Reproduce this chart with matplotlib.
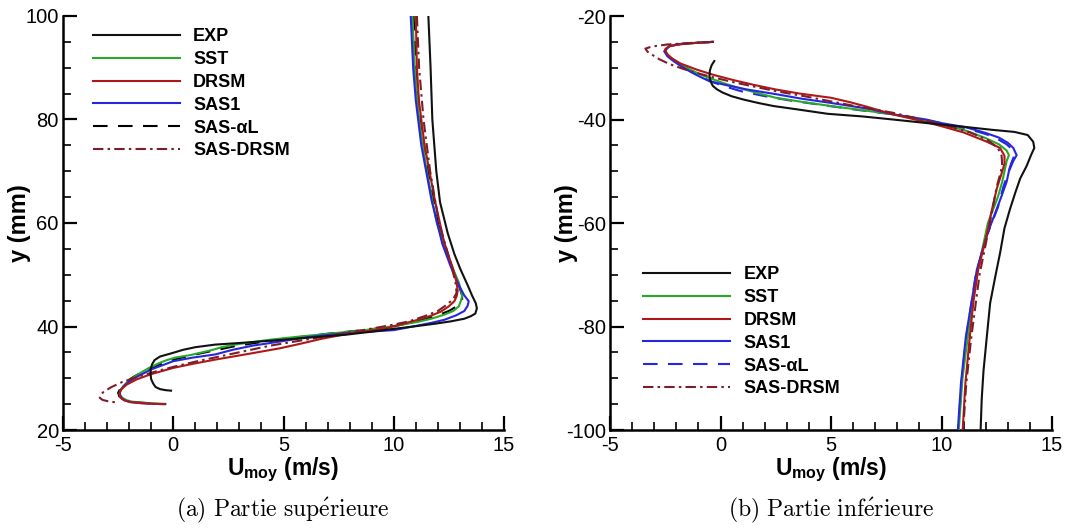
import matplotlib
matplotlib.use("Agg")
import matplotlib.pyplot as plt
from matplotlib.ticker import MultipleLocator

plt.rcParams['font.family'] = ['Liberation Sans', 'DejaVu Sans']
plt.rcParams['axes.unicode_minus'] = False
plt.rcParams['mathtext.fontset'] = 'custom'
plt.rcParams['mathtext.rm'] = 'Liberation Sans:bold'
plt.rcParams['mathtext.bf'] = 'Liberation Sans:bold'
plt.rcParams['mathtext.it'] = 'Liberation Sans:bold:italic'

# ---------------- data : (a) upper part ----------------
exp_up_y = [100, 90, 80, 70, 64, 58, 54, 51, 48, 46, 44.5, 43.5, 42.5, 42.0, 41.5, 41.0, 40.5, 40.0,
            39.5, 39.0, 38.4, 37.9, 37.4, 36.9, 36.5, 36.0, 35.5, 34.8, 34.2, 33.5, 32.7, 31.8, 30.8,
            29.8, 28.9, 28.3, 27.9, 27.7, 27.6]
exp_up_u = [11.57, 11.67, 11.75, 11.93, 12.1, 12.45, 12.75, 13.03, 13.35, 13.55, 13.72, 13.77, 13.7,
            13.5, 13.2, 12.6, 11.8, 10.9, 9.9, 9.0, 7.8, 6.3, 4.85, 3.3, 1.9, 1.0, 0.45, -0.1, -0.6,
            -0.85, -0.96, -1.02, -1.03, -1.0, -0.9, -0.8, -0.6, -0.35, -0.1]

sst_up_y = [100, 90, 80, 70, 60, 52, 48.5, 46.5, 45.9, 45, 43.9, 43, 42.3, 41.5, 40.9, 40.3, 39.6,
            39.0, 38.5, 38.0, 37.5, 37.0, 36.5, 36.0, 35.5, 35.0, 34.5, 34.0, 33.5, 33.0, 32.0, 31.0,
            30.0, 29.0, 28.0, 27.3, 26.7, 26.2, 25.8, 25.5, 25.3, 25.15, 25.05]
sst_up_u = [10.85, 10.95, 11.15, 11.5, 11.95, 12.6, 12.95, 13.08, 13.1, 13.05, 12.95, 12.7, 12.3,
            11.7, 11.1, 10.3, 9.3, 8.0, 6.8, 5.6, 4.5, 3.6, 2.8, 2.2, 1.8, 1.3, 0.8, 0.1, -0.3, -0.6,
            -1.1, -1.5, -1.85, -2.15, -2.35, -2.42, -2.4, -2.3, -2.15, -1.9, -1.5, -1.0, -0.35]

drsm_up_y = [100, 90, 83.7, 75, 64.3, 56, 51.4, 48.5, 46.9, 45.8, 44.9, 43.9, 42.9, 42.1, 41.3, 40.5,
             39.7, 39.1, 38.5, 37.6, 36.7, 35.8, 34.7, 33.6, 32.8, 32.0, 30.8, 29.8, 28.8, 27.9, 27.0,
             26.3, 25.8, 25.4, 25.2, 25.05, 25.0]
drsm_up_u = [11.0, 11.05, 11.14, 11.4, 11.87, 12.3, 12.67, 12.85, 12.9, 12.85, 12.75, 12.5, 12.15,
             11.7, 11.1, 10.4, 9.7, 8.8, 7.8, 6.7, 5.8, 4.85, 3.4, 1.9, 0.9, 0.0, -1.0, -1.65, -2.1,
             -2.35, -2.45, -2.4, -2.25, -1.95, -1.5, -0.9, -0.4]

sas1_up_y = [100, 90, 83.7, 75, 64.3, 56, 51.4, 48, 46, 44.9, 44, 43, 42.2, 41.3, 40.7, 40.2, 39.7,
             39.3, 38.7, 38.0, 37.1, 36.3, 35.5, 34.6, 34.0, 33.3, 32.5, 31.7, 30.5, 29.5, 28.5, 27.5,
             26.8, 26.2, 25.7, 25.4, 25.2, 25.05, 25.0]
sas1_up_u = [10.77, 10.88, 11.0, 11.25, 11.72, 12.2, 12.6, 12.95, 13.2, 13.4, 13.35, 13.2, 12.85,
             12.3, 11.7, 11.1, 10.5, 10.0, 7.8, 6.2, 4.85, 3.6, 2.7, 1.9, 0.9, 0.0, -0.5, -1.0, -1.55,
             -1.95, -2.25, -2.42, -2.42, -2.35, -2.2, -1.95, -1.5, -0.9, -0.38]

sasal_up_y = [100, 90, 80, 70, 60, 52, 48, 46, 45, 44, 43, 42, 41, 40, 39.3, 38.6, 37.8, 37, 36.2,
              35.4, 34.6, 33.8, 33, 32, 31, 30, 29, 28, 27.2, 26.5, 26, 25.6, 25.3, 25.1]
sasal_up_u = [10.9, 11.0, 11.2, 11.55, 12.0, 12.6, 12.95, 13.1, 13.1, 12.9, 12.5, 11.9, 11.0, 10.0,
              8.6, 7.0, 5.4, 4.0, 2.8, 1.9, 1.0, 0.2, -0.4, -1.0, -1.5, -1.9, -2.2, -2.4, -2.5, -2.45,
              -2.3, -2.0, -1.5, -0.8]

sasdrsm_up_y = [100, 90, 80, 70, 60, 52, 48.5, 46.5, 45.3, 44.2, 43, 42, 41, 40.2, 39.3, 38.3, 37.3,
                36.3, 35.3, 34.3, 33.3, 32.3, 31.3, 30.3, 29.3, 28.3, 27.4, 26.7, 26.2, 25.8, 25.5, 25.3]
sasdrsm_up_u = [11.05, 11.15, 11.35, 11.65, 12.05, 12.6, 12.8, 12.85, 12.7, 12.4, 12.0, 11.4, 10.7,
                9.8, 8.6, 7.2, 5.8, 4.4, 3.3, 2.2, 1.1, 0.1, -0.8, -1.6, -2.3, -2.8, -3.15, -3.32,
                -3.33, -3.2, -2.9, -2.5]

# ---------------- data : (b) lower part ----------------
exp_lo_y = [-28.7, -29.5, -30.5, -31.6, -32.6, -33.5, -34.2, -34.8, -35.5, -36.1, -36.8, -37.4, -38.0,
            -38.9, -39.4, -40.0, -40.4, -40.9, -41.4, -42.0, -42.4, -43.0, -44.3, -45.5, -46.9, -49.0,
            -51.4, -54.0, -57.3, -61.0, -65.8, -70.0, -75.5, -82.0, -88.6, -94.0, -100]
exp_lo_u = [-0.28, -0.4, -0.48, -0.5, -0.45, -0.35, -0.15, 0.1, 0.5, 1.0, 1.7, 2.4, 3.4, 4.85, 6.4,
            7.8, 8.7, 9.8, 11.0, 12.3, 13.3, 13.9, 14.15, 14.2, 14.05, 13.85, 13.56, 13.35, 13.1,
            12.85, 12.65, 12.45, 12.2, 12.05, 11.9, 11.82, 11.77]

sst_lo_y = [-25.0, -25.15, -25.4, -25.8, -26.6, -27.5, -28.5, -29.5, -30.5, -31.5, -32.3, -33.2, -34.0,
            -34.8, -35.8, -36.6, -37.4, -38.3, -39.0, -40.2, -41.0, -42.0, -43.6, -44.8, -46.0, -46.9,
            -48.0, -50.0, -52.0, -55.0, -60.0, -70.0, -80.0, -90.0, -100]
sst_lo_u = [-0.35, -1.0, -1.8, -2.3, -2.5, -2.4, -2.1, -1.75, -1.3, -0.8, -0.3, 0.3, 0.9, 1.6, 2.5,
            3.7, 5.0, 6.6, 7.8, 9.3, 10.0, 11.0, 12.0, 12.6, 12.95, 13.05, 12.95, 12.85, 12.75, 12.55,
            12.1, 11.6, 11.25, 10.95, 10.78]

drsm_lo_y = [-25.0, -25.2, -25.5, -25.9, -26.4, -27.2, -28.2, -29.2, -30.4, -31.4, -32.4, -33.3, -34.2,
             -35.0, -35.8, -36.7, -37.5, -39.0, -40.5, -41.3, -42.5, -44.2, -45.5, -47.0, -48.5, -50.0,
             -53.4, -58.0, -62.5, -69.0, -75.0, -82.0, -91.0, -100]
drsm_lo_u = [-0.35, -1.1, -1.9, -2.35, -2.5, -2.45, -2.2, -1.8, -1.05, -0.3, 0.6, 1.5, 2.5, 3.6, 5.0,
             5.9, 6.6, 7.8, 9.3, 10.0, 11.0, 12.0, 12.65, 12.85, 12.85, 12.75, 12.5, 12.25, 12.04,
             11.66, 11.45, 11.28, 11.08, 10.96]

sas1_lo_y = [-25.0, -25.15, -25.4, -25.8, -26.8, -27.8, -28.8, -29.8, -30.8, -31.8, -32.6, -33.4, -34.2,
             -35.1, -36.0, -36.8, -38.0, -39.0, -40.0, -40.7, -41.5, -42.6, -43.5, -44.5, -45.5, -46.9,
             -48.0, -50.0, -52.0, -55.0, -62.5, -69.0, -82.0, -91.0, -100]
sas1_lo_u = [-0.35, -1.0, -1.8, -2.3, -2.55, -2.4, -2.1, -1.75, -1.35, -0.9, -0.5, 0.3, 1.2, 2.5, 3.7,
             5.0, 6.8, 7.8, 9.3, 10.0, 11.1, 12.0, 12.6, 13.0, 13.25, 13.4, 13.25, 13.05, 12.95, 12.7,
             12.04, 11.6, 11.1, 10.88, 10.74]

sasal_lo_y = [-25.0, -25.2, -25.5, -26.0, -26.8, -27.8, -28.8, -29.8, -30.8, -31.8, -32.7, -33.6, -34.5,
              -35.4, -36.3, -37.2, -38.2, -39.0, -40.0, -40.8, -41.7, -42.8, -43.8, -44.8, -45.8, -46.9,
              -48.5, -50.5, -53.0, -57.0, -63.0, -70.0, -82.0, -91.0, -100]
sasal_lo_u = [-0.35, -1.2, -2.0, -2.4, -2.5, -2.35, -2.05, -1.7, -1.3, -0.85, -0.4, 0.2, 0.9, 1.9, 3.1,
              4.6, 6.3, 7.8, 9.2, 10.1, 11.1, 12.0, 12.55, 12.95, 13.2, 13.3, 13.15, 13.0, 12.8, 12.55,
              12.0, 11.55, 11.12, 10.9, 10.76]

sasdrsm_lo_y = [-25.0, -25.2, -25.5, -25.9, -26.3, -26.9, -27.6, -28.4, -29.3, -30.2, -31.1, -32.0,
                -32.9, -33.8, -34.6, -35.5, -36.5, -37.5, -38.7, -40.5, -41.5, -42.5, -44.0, -45.5,
                -47.0, -49.0, -53.0, -62.0, -70.0, -82.0, -91.0, -100]
sasdrsm_lo_u = [-0.3, -1.3, -2.4, -3.1, -3.4, -3.3, -3.05, -2.75, -2.3, -1.7, -1.0, -0.2, 0.7, 1.7, 2.6,
                3.8, 5.0, 6.2, 7.8, 9.6, 10.5, 11.3, 12.1, 12.55, 12.72, 12.75, 12.5, 12.1, 11.72,
                11.35, 11.12, 10.98]

labels = ['EXP', 'SST', 'DRSM', 'SAS1', 'SAS-αL', 'SAS-DRSM']
xticks = [-5, 0, 5, 10, 15]
xlim = (-5, 15)
ylim_a = (20, 100)
ylim_b = (-100, -20)
yticks_a = [20, 40, 60, 80, 100]
yticks_b = [-100, -80, -60, -40, -20]
captions = [r'$\mathrm{(a)\ Partie\ sup\acute{e}rieure}$',
            r'$\mathrm{(b)\ Partie\ inf\acute{e}rieure}$']

C_EXP = '#111111'
C_SST = '#28aa28'
C_DRSM = '#b01818'
C_SAS1 = '#2626e0'
C_SASDRSM = '#7a1f2a'

fig = plt.figure(figsize=(10.79, 5.30), dpi=100)
W, H = 1079.0, 530.0
ax_a = fig.add_axes([63 / W, 1 - 430 / H, 441 / W, 414 / H])
ax_b = fig.add_axes([610 / W, 1 - 430 / H, 442 / W, 414 / H])

lw = 1.5
dash = (0, (7, 5))
dashdot = (0, (5, 2, 1.2, 2))


def style(ax, ylim, yticks):
    ax.set_xlim(*xlim)
    ax.set_ylim(*ylim)
    ax.set_xticks(xticks)
    ax.set_yticks(yticks)
    ax.xaxis.set_minor_locator(MultipleLocator(1))
    ax.yaxis.set_minor_locator(MultipleLocator(5))
    for s in ('top', 'right'):
        ax.spines[s].set_visible(False)
    for s in ('left', 'bottom'):
        ax.spines[s].set_linewidth(1.8)
    ax.tick_params(which='major', direction='in', length=10, width=1.6, labelsize=14.5,
                   top=False, right=False)
    ax.tick_params(axis='x', which='major', pad=4)
    ax.tick_params(axis='y', which='major', pad=3)
    ax.tick_params(which='minor', direction='in', length=6, width=1.2, top=False, right=False)
    ax.set_xlabel(r'U$_{\mathrm{moy}}$ (m/s)', fontsize=16.5, fontweight='bold')
    ax.set_ylabel('y (mm)', fontsize=17, fontweight='bold')
    ax.xaxis.set_label_coords(0.5, -0.062)
    ax.yaxis.set_label_coords(-0.072, 0.5)


leg_kw = dict(frameon=False, loc='upper left', borderaxespad=0, borderpad=0,
              handlelength=4.8, handletextpad=0.75, labelspacing=0.32,
              prop={'family': 'Liberation Sans', 'weight': 'bold', 'size': 13})

# panel (a)
ax = ax_a
l_exp, = ax.plot(exp_up_u, exp_up_y, color=C_EXP, lw=lw, zorder=6)
l_sst, = ax.plot(sst_up_u, sst_up_y, color=C_SST, lw=lw, zorder=4)
l_drsm, = ax.plot(drsm_up_u, drsm_up_y, color=C_DRSM, lw=lw, zorder=5)
l_sas1, = ax.plot(sas1_up_u, sas1_up_y, color=C_SAS1, lw=lw, zorder=4.5)
l_sasal, = ax.plot(sasal_up_u, sasal_up_y, color='black', lw=lw, linestyle=dash, zorder=3)
l_sasd, = ax.plot(sasdrsm_up_u, sasdrsm_up_y, color=C_SASDRSM, lw=lw, linestyle=dashdot, zorder=5.5)
style(ax, ylim_a, yticks_a)
ax.legend([l_exp, l_sst, l_drsm, l_sas1, l_sasal, l_sasd], labels,
          bbox_to_anchor=(0.068, 0.97), **leg_kw)

# panel (b)
ax = ax_b
l_exp, = ax.plot(exp_lo_u, exp_lo_y, color=C_EXP, lw=lw, zorder=6)
l_sst, = ax.plot(sst_lo_u, sst_lo_y, color=C_SST, lw=lw, zorder=3.5)
l_drsm, = ax.plot(drsm_lo_u, drsm_lo_y, color=C_DRSM, lw=lw, zorder=5)
l_sas1, = ax.plot(sas1_lo_u, sas1_lo_y, color=C_SAS1, lw=lw, zorder=4.5)
l_sasal, = ax.plot(sasal_lo_u, sasal_lo_y, color=C_SAS1, lw=lw, linestyle=dash, zorder=3)
l_sasd, = ax.plot(sasdrsm_lo_u, sasdrsm_lo_y, color=C_SASDRSM, lw=lw, linestyle=dashdot, zorder=5.5)
style(ax, ylim_b, yticks_b)
ax.legend([l_exp, l_sst, l_drsm, l_sas1, l_sasal, l_sasd], labels,
          bbox_to_anchor=(0.075, 0.395), **leg_kw)

# captions
fig.text(283 / W, 1 - 510 / H, captions[0], ha='center', va='center', fontsize=17, math_fontfamily='cm')
fig.text(831 / W, 1 - 510 / H, captions[1], ha='center', va='center', fontsize=17, math_fontfamily='cm')

fig.savefig('out.png', dpi=100)
